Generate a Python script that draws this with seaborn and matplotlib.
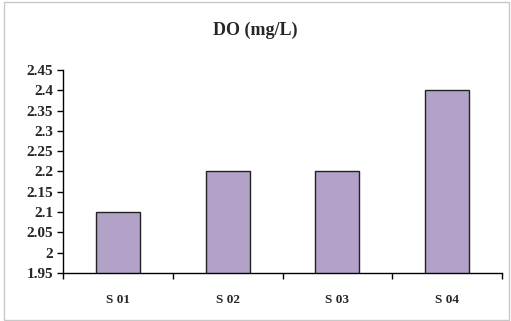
import matplotlib
matplotlib.use("Agg")
import matplotlib.pyplot as plt
import seaborn as sns
import pandas as pd
import numpy as np
from matplotlib.patches import Rectangle

sites = ["S 01", "S 02", "S 03", "S 04"]
do_values = [2.1, 2.2, 2.2, 2.4]
y_ticks = [1.95, 2.0, 2.05, 2.1, 2.15, 2.2, 2.25, 2.3, 2.35, 2.4, 2.45]
y_labels = ["1.95", "2", "2.05", "2.1", "2.15", "2.2", "2.25", "2.3", "2.35", "2.4", "2.45"]

sns.set_style("white")
plt.rcParams['font.family'] = ['Liberation Serif', 'DejaVu Serif']

df = pd.DataFrame({"site": sites, "DO": do_values})

fig = plt.figure(figsize=(5.11, 3.21), dpi=100)
ax = fig.add_axes([63/511, 48/321, 439/511, 203/321])

sns.barplot(data=df, x="site", y="DO", order=sites, color="#B3A2C7",
            edgecolor="#222222", linewidth=1.0, width=0.4, saturation=1, ax=ax)

ax.set_ylim(1.95, 2.45)
ax.set_xlim(-0.5, len(sites) - 0.5)
ax.set_yticks(y_ticks)
ax.set_yticklabels(y_labels, fontsize=11, fontweight='bold')
ax.set_xticklabels(sites, fontsize=9.5, fontweight='bold')
ax.tick_params(axis='x', which='major', length=0, pad=15, bottom=True)
ax.set_xticks(np.arange(-0.5, len(sites)), minor=True)
ax.tick_params(axis='x', which='minor', length=4, width=1, direction='out',
               color='black', bottom=True)
ax.tick_params(axis='y', length=4, width=1, direction='out', color='black',
               pad=3, left=True)
ax.set_xlabel("")
ax.set_ylabel("")
sns.despine(ax=ax)
for s in ["left", "bottom"]:
    ax.spines[s].set_color("black")
    ax.spines[s].set_linewidth(1)

fig.text(0.5, 1 - 30/321, "DO (mg/L)", ha="center", va="center",
         fontsize=13, fontweight="bold")

# outer chart frame
fig.patches.append(Rectangle((4/511, 1/321), 505/511, 318/321, transform=fig.transFigure,
                             fill=False, edgecolor="#C8C8C8", linewidth=1))

fig.savefig("out.png", dpi=100)
